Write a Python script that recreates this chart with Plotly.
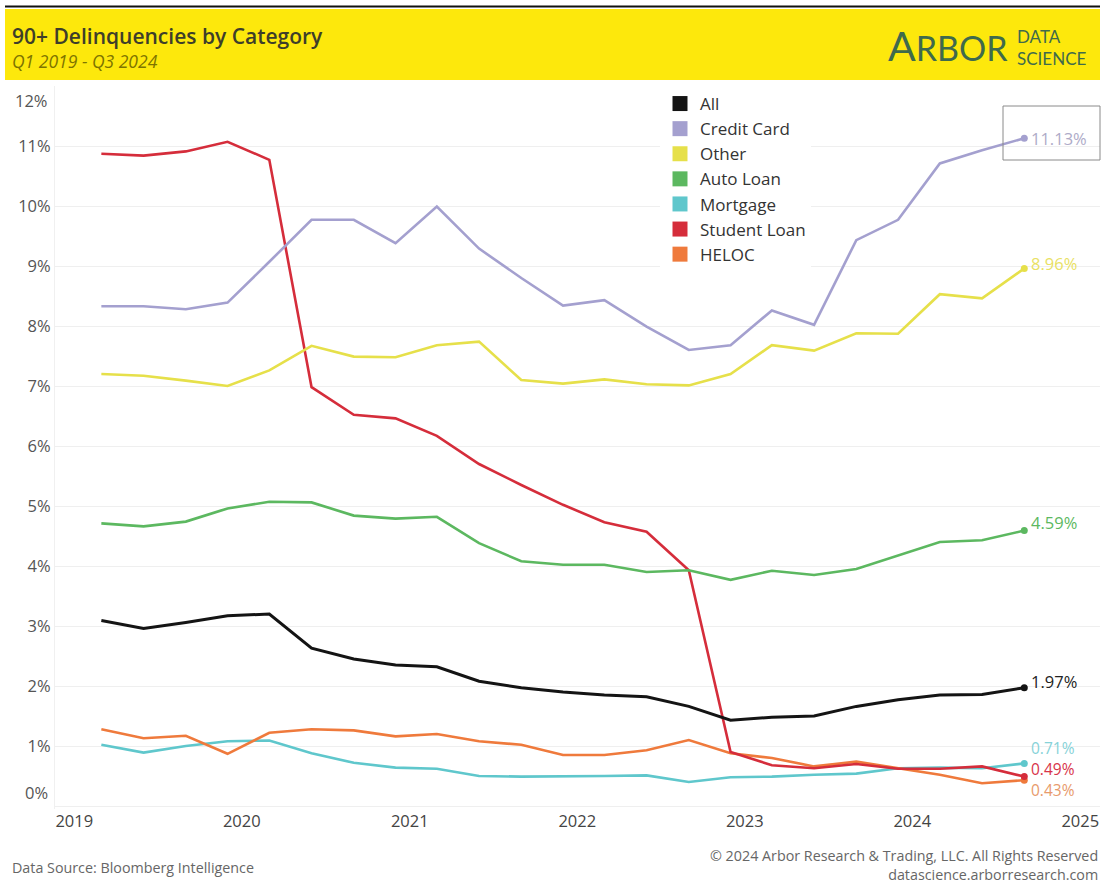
import pandas as pd
import plotly.graph_objects as go

# ---- data: 90+ day delinquency rate (%) by quarter, Q1 2019 .. Q3 2024 ----
quarter_dates = pd.date_range("2019-03-01", periods=23, freq="3MS")

all_loans = [3.09, 2.96, 3.06, 3.17, 3.20, 2.63, 2.45, 2.35, 2.32, 2.08, 1.97, 1.90,
             1.85, 1.82, 1.66, 1.43, 1.48, 1.50, 1.66, 1.77, 1.85, 1.86, 1.97]
credit_card = [8.33, 8.33, 8.28, 8.39, 9.07, 9.77, 9.77, 9.38, 9.99, 9.29, 8.80, 8.34,
               8.43, 7.99, 7.60, 7.68, 8.26, 8.02, 9.43, 9.77, 10.71, 10.93, 11.13]
other = [7.20, 7.17, 7.09, 7.00, 7.26, 7.67, 7.49, 7.48, 7.68, 7.74, 7.10, 7.04,
         7.11, 7.03, 7.01, 7.20, 7.68, 7.59, 7.88, 7.87, 8.53, 8.46, 8.96]
auto_loan = [4.71, 4.66, 4.74, 4.96, 5.07, 5.06, 4.84, 4.79, 4.82, 4.38, 4.08, 4.02,
             4.02, 3.90, 3.93, 3.77, 3.92, 3.85, 3.95, 4.18, 4.40, 4.43, 4.59]
mortgage = [1.02, 0.89, 1.00, 1.08, 1.09, 0.88, 0.72, 0.64, 0.62, 0.50, 0.49, 0.49,
            0.50, 0.51, 0.40, 0.48, 0.49, 0.52, 0.54, 0.63, 0.64, 0.63, 0.71]
student_loan = [10.87, 10.84, 10.91, 11.07, 10.77, 6.98, 6.52, 6.46, 6.17, 5.70, 5.35, 5.02,
                4.73, 4.57, 3.93, 0.90, 0.68, 0.63, 0.70, 0.62, 0.62, 0.66, 0.49]
heloc = [1.28, 1.13, 1.17, 0.87, 1.22, 1.28, 1.26, 1.16, 1.20, 1.08, 1.02, 0.85,
         0.85, 0.93, 1.10, 0.88, 0.80, 0.66, 0.74, 0.63, 0.52, 0.38, 0.43]

legend_order = ["All", "Credit Card", "Other", "Auto Loan", "Mortgage", "Student Loan", "HELOC"]
year_ticks = [2019, 2020, 2021, 2022, 2023, 2024, 2025]
pct_ticks = list(range(0, 13))

series = {
    "All": all_loans,
    "Credit Card": credit_card,
    "Other": other,
    "Auto Loan": auto_loan,
    "Mortgage": mortgage,
    "Student Loan": student_loan,
    "HELOC": heloc,
}

# ---- styling ----
W, H = 1104, 885
ML, MR, MT, MB = 55, 4, 86, 76
FONT = "Open Sans"
LOGO_FONT = "Lato"
LOGO_GREEN = "#3f6a4c"
FOOT_GREY = "#666666"

line_color = {
    "All": "#141414",
    "Credit Card": "#a4a0cf",
    "Other": "#e6e04a",
    "Auto Loan": "#5cb860",
    "Mortgage": "#5fc7cc",
    "Student Loan": "#d52d3b",
    "HELOC": "#ef7a3c",
}
label_color = {
    "All": "#222222",
    "Credit Card": "#aeabc8",
    "Other": "#e9e163",
    "Auto Loan": "#5cb860",
    "Mortgage": "#86d2d8",
    "Student Loan": "#d8344a",
    "HELOC": "#e89a6c",
}
label_shift = {
    "All": 6, "Credit Card": 0, "Other": 5, "Auto Loan": 8,
    "Mortgage": 15, "Student Loan": 8, "HELOC": -10,
}
label_size = {
    "All": 16.5, "Credit Card": 16.5, "Other": 16.5, "Auto Loan": 16.5,
    "Mortgage": 15.5, "Student Loan": 15.5, "HELOC": 15.5,
}
draw_order = ["Mortgage", "HELOC", "Student Loan", "Auto Loan", "Other", "Credit Card", "All"]


def px_x(p):
    """page pixel column -> paper x"""
    return (p - ML) / (W - ML - MR)


def px_y(p):
    """page pixel row -> paper y"""
    return 1 - (p - MT) / (H - MT - MB)


def paper_text(x, y, text, size, color, anchor="left", family=FONT, **kw):
    return dict(x=px_x(x), y=px_y(y), xref="paper", yref="paper", text=text,
                showarrow=False, xanchor=anchor, yanchor="middle", borderpad=0,
                align="left", font=dict(family=family, size=size, color=color, **kw))


fig = go.Figure()

for name in draw_order:
    vals = series[name]
    fig.add_trace(go.Scatter(
        x=quarter_dates, y=vals, mode="lines", name=name, showlegend=False,
        line=dict(color=line_color[name], width=3.0 if name == "All" else 2.6),
        hoverinfo="skip",
    ))
    # dot at the most recent quarter
    fig.add_trace(go.Scatter(
        x=[quarter_dates[-1]], y=[vals[-1]], mode="markers", showlegend=False,
        marker=dict(color=line_color[name], size=7), hoverinfo="skip",
    ))

# square swatches for the legend
for name in legend_order:
    fig.add_trace(go.Scatter(
        x=[None], y=[None], mode="markers", name=name,
        marker=dict(symbol="square", size=15, color=line_color[name]),
    ))

annotations = []
# latest-value labels
for name in legend_order:
    vals = series[name]
    annotations.append(dict(
        x=quarter_dates[-1], y=vals[-1], xref="x", yref="y",
        text=f"{vals[-1]:.2f}%", showarrow=False, xanchor="left", yanchor="middle",
        xshift=6, yshift=label_shift[name], borderpad=0,
        font=dict(family=FONT, size=label_size[name], color=label_color[name]),
    ))

# end tick labels sit a little inside the plot edges
annotations.append(dict(x=0, y=px_y(792), xref="paper", yref="paper", text="0%",
                        showarrow=False, xanchor="right", yanchor="middle", xshift=-5,
                        font=dict(family=FONT, size=16.5, color="#555555")))
annotations.append(dict(x=0, y=px_y(100), xref="paper", yref="paper", text="12%",
                        showarrow=False, xanchor="right", yanchor="middle", xshift=-5,
                        font=dict(family=FONT, size=16.5, color="#555555")))

# header
annotations.append(paper_text(11, 36, "90+ Delinquencies by Category", 21, "#3e3e2a",
                              weight=600))
annotations.append(paper_text(11, 61, "<i>Q1 2019 - Q3 2024</i>", 17.5, "#7d7400"))
annotations.append(paper_text(1009, 46, "<span style='font-size:41px'>A</span>RBOR", 34,
                              LOGO_GREEN, anchor="right", family=LOGO_FONT))
annotations.append(paper_text(1016, 48, "DATA<br>SCIENCE", 17, LOGO_GREEN, family=LOGO_FONT))

# footer
annotations.append(paper_text(11, 867, "Data Source: Bloomberg Intelligence", 14.3, FOOT_GREY))
annotations.append(paper_text(1099, 865,
                              "© 2024 Arbor Research & Trading, LLC. All Rights Reserved<br>"
                              "datascience.arborresearch.com",
                              14.3, FOOT_GREY, anchor="right") | dict(align="right"))

shapes = [
    # yellow title band and rule above it
    dict(type="rect", xref="paper", yref="paper", x0=px_x(5), x1=px_x(1100),
         y0=px_y(80), y1=px_y(9), fillcolor="#fde80c", line=dict(width=0), layer="below"),
    dict(type="line", xref="paper", yref="paper", x0=px_x(5), x1=px_x(1100),
         y0=px_y(6.5), y1=px_y(6.5), line=dict(color="#111111", width=2)),
    # highlight frame around the latest credit-card value
    dict(type="rect", xref="paper", yref="paper", x0=px_x(1003), x1=px_x(1100),
         y0=px_y(160), y1=px_y(106), line=dict(color="#8a8a8a", width=1)),
]

fig.update_layout(
    width=W, height=H,
    margin=dict(l=ML, r=MR, t=MT, b=MB),
    paper_bgcolor="white", plot_bgcolor="white",
    font=dict(family=FONT, color="#444444"),
    annotations=annotations, shapes=shapes,
    legend=dict(x=px_x(660), y=px_y(86), xanchor="left", yanchor="top",
                bgcolor="white", font=dict(family=FONT, size=17, color="#333333"),
                tracegroupgap=0, itemwidth=30),
    showlegend=True,
)

fig.update_xaxes(
    type="date",
    range=["2018-11-20", "2025-02-13"],
    tickvals=[f"{y}-01-01" for y in year_ticks],
    ticktext=[str(y) for y in year_ticks],
    showgrid=False, zeroline=False, showline=False, ticks="",
    tickfont=dict(family=FONT, size=16.5, color="#444444"),
)
fig.update_yaxes(
    range=[-0.05, 12.0],
    tickvals=pct_ticks,
    ticktext=["" if v in (0, 12) else f"{v}%" for v in pct_ticks],
    showgrid=True, gridcolor="#efefef", gridwidth=1,
    zeroline=False, showline=True, linecolor="#f0f0f0", ticks="",
    tickfont=dict(family=FONT, size=16.5, color="#555555"),
)

fig.write_html("out.html")
